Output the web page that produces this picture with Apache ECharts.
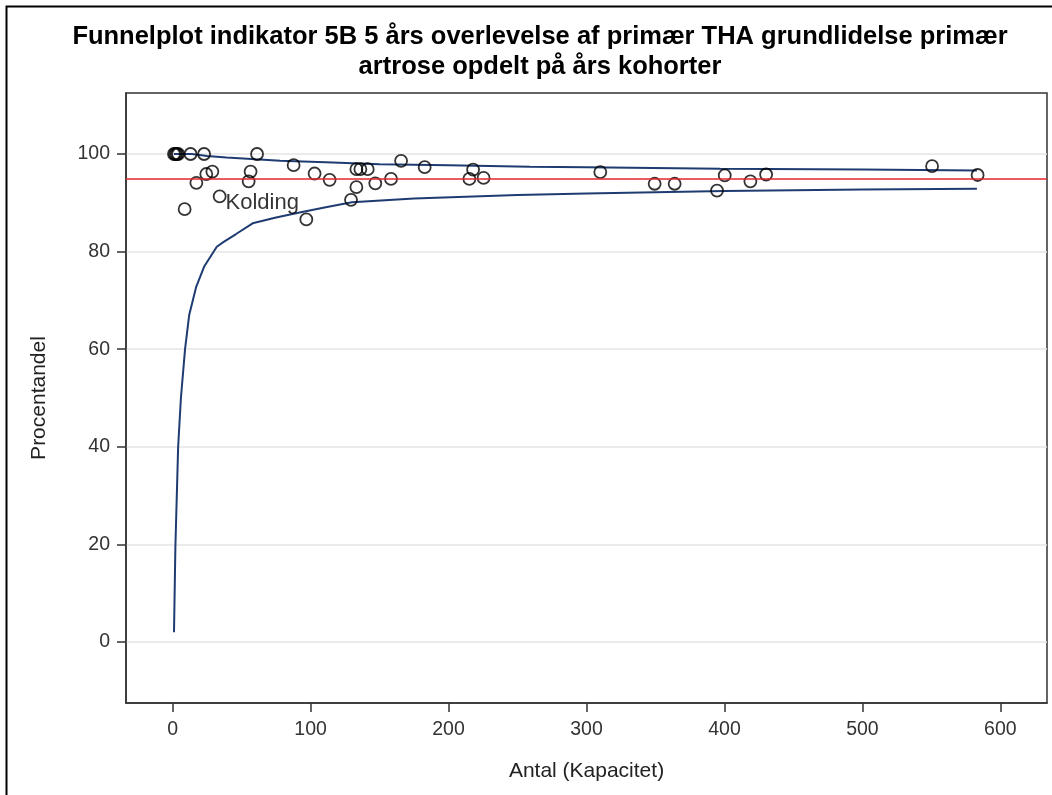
<!DOCTYPE html>
<html>
<head>
<meta charset="UTF-8">
<title>Funnelplot indikator 5B</title>
<script src="https://cdn.jsdelivr.net/npm/echarts@6/dist/echarts.min.js"></script>
</head>
<body style="margin:0;background:#fff">
<div id="main" style="width:1052px;height:795px;"></div>
<script>
// afdelinger: antal (kapacitet) og procentandel
var antal = [1, 2, 3, 4, 13, 22.8, 61.2, 8.7, 17.2, 24.4, 28.8, 34.1, 55.1, 56.5, 87.7, 96.9, 102.9, 113.8,
    129.3, 133.2, 133.2, 136.1, 141.4, 146.9, 158.3, 165.6, 182.7, 215.1, 217.8, 225.4,
    310, 349.4, 363.9, 394.6, 400.2, 418.8, 430.2, 550.5, 583.5];
var andel = [100, 100, 100, 100, 100, 100, 100, 88.7, 94.1, 95.9, 96.4, 91.3, 94.4, 96.4, 97.7, 86.6, 96.0, 94.7,
    90.6, 93.2, 96.9, 96.9, 96.9, 94.0, 94.9, 98.6, 97.3, 94.9, 96.8, 95.1,
    96.3, 93.9, 93.9, 92.5, 95.6, 94.4, 95.8, 97.5, 95.7];
var navne = ['', '', '', '', '', '', '', '', '', '', '', 'Kolding', '', '', '', '', '', '',
    '', '', '', '', '', '', '', '', '', '', '', '',
    '', '', '', '', '', '', '', '', ''];

// kontrolgrænser
var oevreN = [1, 14, 25, 39, 60, 78, 111, 150, 200, 259, 300, 397, 500, 583];
var oevre  = [100, 100, 99.6, 99.3, 98.9, 98.6, 98.3, 97.9, 97.7, 97.4, 97.3, 97.0, 96.8, 96.6];
var nedreN = [1, 2, 4, 6, 9, 12, 17, 23, 32, 37, 46, 58, 75, 92, 111, 130, 175, 250, 300, 400, 500, 583];
var nedre  = [2, 19.5, 40, 50, 60, 67, 72.7, 77, 81, 82, 83.6, 85.8, 87, 88, 89.1, 90.1, 90.9, 91.6, 91.9, 92.4, 92.7, 92.9];

var gennemsnit = 95.0;

var xTicks = [0, 100, 200, 300, 400, 500, 600];
var yTicks = [0, 20, 40, 60, 80, 100];

var fnt = 'Liberation Sans';

function par(xs, ys) {
    var out = [];
    for (var i = 0; i < xs.length; i++) out.push([xs[i], ys[i]]);
    return out;
}

var punkter = [];
for (var i = 0; i < antal.length; i++) {
    var p = { value: [antal[i], andel[i]] };
    if (navne[i]) {
        p.label = {
            show: true, formatter: navne[i], position: 'right', distance: 0, offset: [-1, 6],
            color: '#000', fontSize: 22, fontFamily: fnt
        };
    }
    punkter.push(p);
}

var myChart = echarts.init(document.getElementById('main'));

var option = {
    animation: false,
    backgroundColor: '#fff',
    graphic: [
        { type: 'rect', shape: { x: 6.5, y: 6.5, width: 1100, height: 900 },
          style: { fill: 'none', stroke: '#000', lineWidth: 2 }, silent: true },
        { type: 'text', x: 540, y: 22,
          style: { text: 'Funnelplot indikator 5B 5 års overlevelse af primær THA grundlidelse primær\nartrose opdelt på års kohorter',
                   fill: '#000', font: 'bold 25.5px ' + fnt, textAlign: 'center', lineHeight: 30 } }
    ],
    grid: {
        left: 126, right: 5, top: 93, bottom: 92,
        show: true, borderColor: '#333', borderWidth: 1.5
    },
    xAxis: {
        type: 'value', min: -33.8, max: 633.8,
        name: 'Antal (Kapacitet)', nameLocation: 'middle', nameGap: 58,
        nameTextStyle: { fontSize: 21, color: '#222', fontFamily: fnt },
        axisLine: { show: true, onZero: false, lineStyle: { color: '#333', width: 1.5 } },
        axisTick: { show: true, length: 9, customValues: xTicks, lineStyle: { color: '#333', width: 1.5 } },
        axisLabel: { customValues: xTicks, margin: 17, fontSize: 19.5, color: '#333', fontFamily: fnt },
        splitLine: { show: false }
    },
    yAxis: {
        type: 'value', min: -12.5, max: 112.5,
        name: 'Procentandel', nameLocation: 'middle', nameGap: 76,
        nameTextStyle: { fontSize: 21, color: '#222', fontFamily: fnt },
        axisLine: { show: true, onZero: false, lineStyle: { color: '#333', width: 1.5 } },
        axisTick: { show: true, length: 9, customValues: yTicks, lineStyle: { color: '#333', width: 1.5 } },
        axisLabel: { customValues: yTicks, margin: 16, fontSize: 19.5, color: '#333', fontFamily: fnt },
        splitLine: { show: true, lineStyle: { color: '#e4e4e4', width: 1.5 } }
    },
    series: [
        {
            type: 'line', data: par(oevreN, oevre), showSymbol: false, symbol: 'none',
            lineStyle: { color: '#1f3c72', width: 2 }, z: 2
        },
        {
            type: 'line', data: par(nedreN, nedre), showSymbol: false, symbol: 'none',
            lineStyle: { color: '#1f3c72', width: 2 }, z: 2
        },
        {
            type: 'scatter', data: punkter, symbol: 'circle', symbolSize: 12,
            itemStyle: { color: 'rgba(0,0,0,0)', borderColor: '#000', borderWidth: 1.8 },
            z: 3,
            markLine: {
                silent: true, symbol: 'none', label: { show: false },
                lineStyle: { color: '#e3262b', width: 1.5, type: 'solid' },
                data: [{ yAxis: gennemsnit }]
            }
        }
    ]
};

myChart.setOption(option);
</script>
</body>
</html>
